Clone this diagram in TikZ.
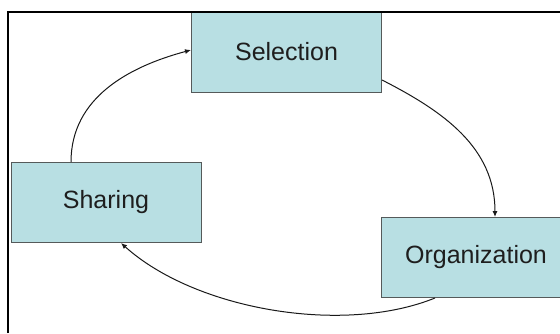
\documentclass[tikz,border=0pt]{standalone}
\usepackage{fontspec}
\setmainfont{Liberation Sans}
\usetikzlibrary{arrows.meta}

\definecolor{boxfill}{RGB}{184,223,227}
\definecolor{boxline}{RGB}{85,90,90}
\definecolor{txt}{RGB}{30,30,30}

\tikzset{
  stage/.style={rectangle,draw=boxline,fill=boxfill,line width=1pt,
    minimum width=190pt,minimum height=80pt,text=txt,
    font=\fontsize{25}{30}\selectfont},
  flow/.style={->,line width=1pt,black!90}
}

\begin{document}
\begin{tikzpicture}[x=1pt,y=-1pt,>={Latex[length=6pt,width=5pt]}]
			\useasboundingbox[fill=white] (0,0) rectangle (560,333);
			\node[stage] (sel) at (286.5,52) {Selection};
			\node[stage] (shar) at (106,202.5) {Sharing};
			\node[stage] (org) at (476,257.5) {Organization};
			
			\draw[flow] ([xshift=-35pt]shar.north) to[out=90,in=195] ([yshift=2pt]sel.west);
			\draw[flow] ([yshift=-28pt]sel.east) to[out=-27,in=90] ([xshift=19pt]org.north);
			\draw[flow] ([xshift=-41pt]org.south) to[out=202,in=-42,looseness=0.8] ([xshift=15pt]shar.south);
			
			% frame
			\draw[line width=2pt] (8,333) -- (8,12) -- (560,12);
		\end{tikzpicture}
\end{document}
